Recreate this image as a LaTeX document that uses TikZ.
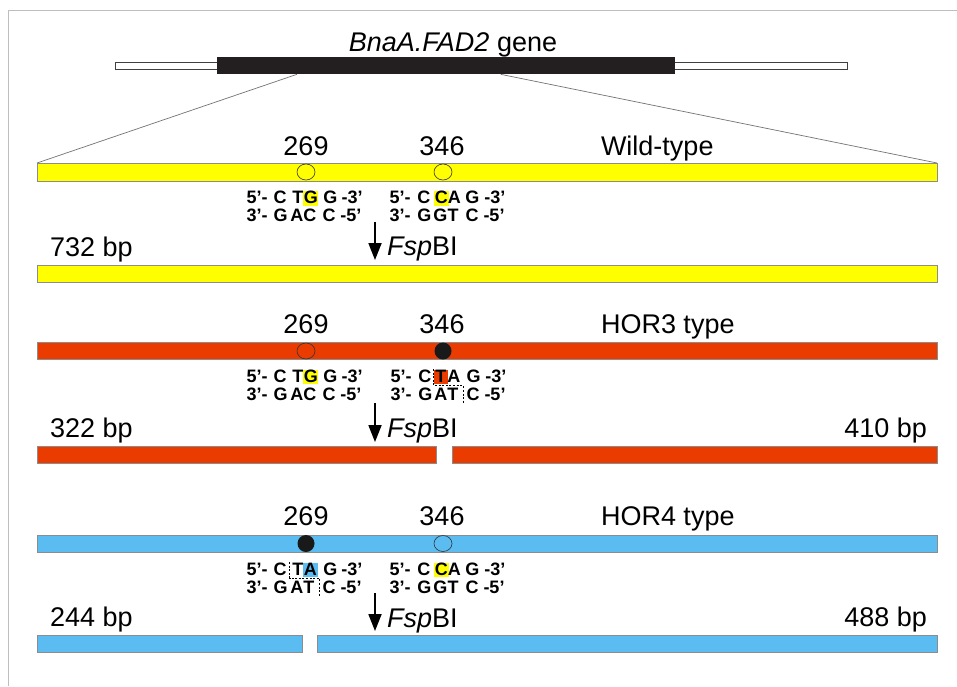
\documentclass[tikz,border=0pt]{standalone}
\usepackage{fontspec}
\setmainfont{Liberation Sans}
\newfontfamily\seqfont{Liberation Sans}[FakeStretch=1.0]
\usetikzlibrary{arrows.meta}
\definecolor{wtY}{RGB}{255,255,0}
\definecolor{horR}{RGB}{234,60,0}
\definecolor{horB}{RGB}{90,188,240}
\definecolor{barEdge}{RGB}{140,140,140}
\definecolor{frameG}{RGB}{190,190,190}
\definecolor{geneK}{RGB}{35,31,32}
\newcommand\tk[2]{\makebox[0pt][l]{\hspace*{#1pt}#2}}
\begin{document}
\begin{tikzpicture}[x=1pt,y=-1pt,
  big/.style={font=\fontsize{27}{27}\selectfont, inner sep=0pt, outer sep=0pt},
  seqtext/.style={font=\seqfont\fontsize{18}{18}\selectfont\bfseries, inner sep=0pt, outer sep=0pt, anchor=base west},
  bar/.style={draw=barEdge, line width=0.8pt, inner sep=0pt, outer sep=0pt, anchor=north west, minimum height=17pt},
  conn/.style={draw=black!55, line width=0.7pt},
  site/.style={draw=black!80, line width=0.6pt},
  cutline/.style={draw=black, line width=0.8pt, dash pattern=on 2pt off 1.6pt},
  digest/.style={line width=1.8pt, -{Triangle[width=13pt,length=17pt]}}]
\useasboundingbox (0,0) rectangle (957,686);
\fill[white] (0,0) rectangle (957,686);
\draw[frameG, line width=1pt] (8.3,686) -- (8.3,10.3) -- (957,10.3);

% gene
\node[big, anchor=base] (title) at (453,51) {\textit{BnaA.FAD2} gene};
\node[draw=black!75, fill=white, line width=0.8pt, inner sep=0pt, outer sep=0pt, anchor=north west,
      minimum width=732pt, minimum height=7pt] (utr) at (115,62.5) {};
\node[fill=geneK, inner sep=0pt, outer sep=0pt, anchor=north west,
      minimum width=458pt, minimum height=17pt] (cds) at (216.5,57.3) {};
\coordinate (zoomL) at (297,74.3);
\coordinate (zoomR) at (500.6,74.3);

% ---------- Wild type ----------
\node[bar, fill=wtY, minimum width=900pt, minimum height=18pt] (wtbar) at (37,163) {};
\draw[conn] (zoomL) -- (wtbar.north west);
\draw[conn] (zoomR) -- (wtbar.north east);
\draw[site] (306,172) ellipse (9 and 8);
\draw[site] (443,172) ellipse (9 and 8);
\node[big, anchor=base] (wt269) at (306,155) {269};
\node[big, anchor=base] (wt346) at (442,155) {346};
\node[big, anchor=base west] (wtlab) at (601,155) {Wild-type};
\fill[wtY] (302.5,191) rectangle (317.5,205.5);
\fill[wtY] (433.5,191) rectangle (448.5,205.5);
\node[seqtext] (wtl1) at (246,203.5) {\tk{0}{5’-}\tk{27}{C}\tk{46}{T}\tk{57.5}{G}\tk{77}{G}\tk{95}{-3’}};
\node[seqtext] (wtl2) at (246,221.5) {\tk{0}{3’-}\tk{27}{G}\tk{44}{A}\tk{57}{C}\tk{76}{C}\tk{94}{-5’}};
\node[seqtext] (wtr1) at (389,203.5) {\tk{0}{5’-}\tk{28}{C}\tk{45.5}{C}\tk{58.5}{A}\tk{76}{G}\tk{95}{-3’}};
\node[seqtext] (wtr2) at (389,221.5) {\tk{0}{3’-}\tk{28}{G}\tk{44}{G}\tk{58}{T}\tk{76}{C}\tk{94}{-5’}};
\coordinate (wtA1) at (375,222);
\coordinate (wtA2) at (375,260);
\draw[digest] (wtA1) -- (wtA2);
\node[big, anchor=base west] (wtenz) at (387,255) {\textit{Fsp}BI};
\node[big, anchor=base west] (wtbp) at (50,256) {732 bp};
\node[bar, fill=wtY, minimum width=900pt] (wtfrag) at (37,265) {};

% ---------- HOR3 ----------
\node[bar, fill=horR, minimum width=900pt] (h3bar) at (37,342.5) {};
\draw[site] (306,351) ellipse (9 and 8);
\fill[black!90] (443,351) circle (8.5);
\node[big, anchor=base] (h3269) at (306,333) {269};
\node[big, anchor=base] (h3346) at (442,333) {346};
\node[big, anchor=base west] (h3lab) at (601,333) {HOR3 type};
\fill[wtY] (302.5,369.5) rectangle (317.5,384);
\fill[horR] (433.5,369.5) rectangle (448,384);
\node[seqtext] (h3l1) at (246,382) {\tk{0}{5’-}\tk{27}{C}\tk{46}{T}\tk{57.5}{G}\tk{77}{G}\tk{95}{-3’}};
\node[seqtext] (h3l2) at (246,400) {\tk{0}{3’-}\tk{27}{G}\tk{44}{A}\tk{57}{C}\tk{76}{C}\tk{94}{-5’}};
\node[seqtext] (h3r1) at (390,382) {\tk{0}{5’-}\tk{28}{C}\tk{45}{T}\tk{57}{A}\tk{76}{G}\tk{95}{-3’}};
\node[seqtext] (h3r2) at (390,400) {\tk{0}{3’-}\tk{28}{G}\tk{44}{A}\tk{57}{T}\tk{76}{C}\tk{94}{-5’}};
\draw[cutline] (433.5,369) -- (433.5,385.5) -- (463,385.5) -- (463,404);
\coordinate (h3A1) at (375,403);
\coordinate (h3A2) at (375,442);
\draw[digest] (h3A1) -- (h3A2);
\node[big, anchor=base west] (h3enz) at (387,437) {\textit{Fsp}BI};
\node[big, anchor=base west] (h3bpl) at (50,437) {322 bp};
\node[big, anchor=base east] (h3bpr) at (927,437) {410 bp};
\node[bar, fill=horR, minimum width=399pt] (h3fragl) at (37,446) {};
\node[bar, fill=horR, minimum width=485pt] (h3fragr) at (452,446) {};

% ---------- HOR4 ----------
\node[bar, fill=horB, minimum width=900pt] (h4bar) at (37,535) {};
\fill[black!90] (306,543.5) circle (8.5);
\draw[site] (443,543.5) ellipse (9 and 8);
\node[big, anchor=base] (h4269) at (306,525) {269};
\node[big, anchor=base] (h4346) at (442,525) {346};
\node[big, anchor=base west] (h4lab) at (601,525) {HOR4 type};
\fill[horB] (302.5,562.5) rectangle (317.5,577);
\fill[wtY] (433.5,562.5) rectangle (448.5,577);
\node[seqtext] (h4l1) at (246,575) {\tk{0}{5’-}\tk{27}{C}\tk{46}{T}\tk{57.5}{A}\tk{77}{G}\tk{95}{-3’}};
\node[seqtext] (h4l2) at (246,593) {\tk{0}{3’-}\tk{27}{G}\tk{44}{A}\tk{57}{T}\tk{76}{C}\tk{94}{-5’}};
\node[seqtext] (h4r1) at (389,575) {\tk{0}{5’-}\tk{28}{C}\tk{45.5}{C}\tk{58.5}{A}\tk{76}{G}\tk{95}{-3’}};
\node[seqtext] (h4r2) at (389,593) {\tk{0}{3’-}\tk{28}{G}\tk{44}{G}\tk{58}{T}\tk{76}{C}\tk{94}{-5’}};
\draw[cutline] (289.5,562) -- (289.5,578) -- (319,578) -- (319,597);
\coordinate (h4A1) at (375,593);
\coordinate (h4A2) at (375,631);
\draw[digest] (h4A1) -- (h4A2);
\node[big, anchor=base west] (h4enz) at (387,627) {\textit{Fsp}BI};
\node[big, anchor=base west] (h4bpl) at (50,626) {244 bp};
\node[big, anchor=base east] (h4bpr) at (927,626) {488 bp};
\node[bar, fill=horB, minimum width=265pt] (h4fragl) at (37,635) {};
\node[bar, fill=horB, minimum width=620pt] (h4fragr) at (317,635) {};
\end{tikzpicture}
\end{document}
